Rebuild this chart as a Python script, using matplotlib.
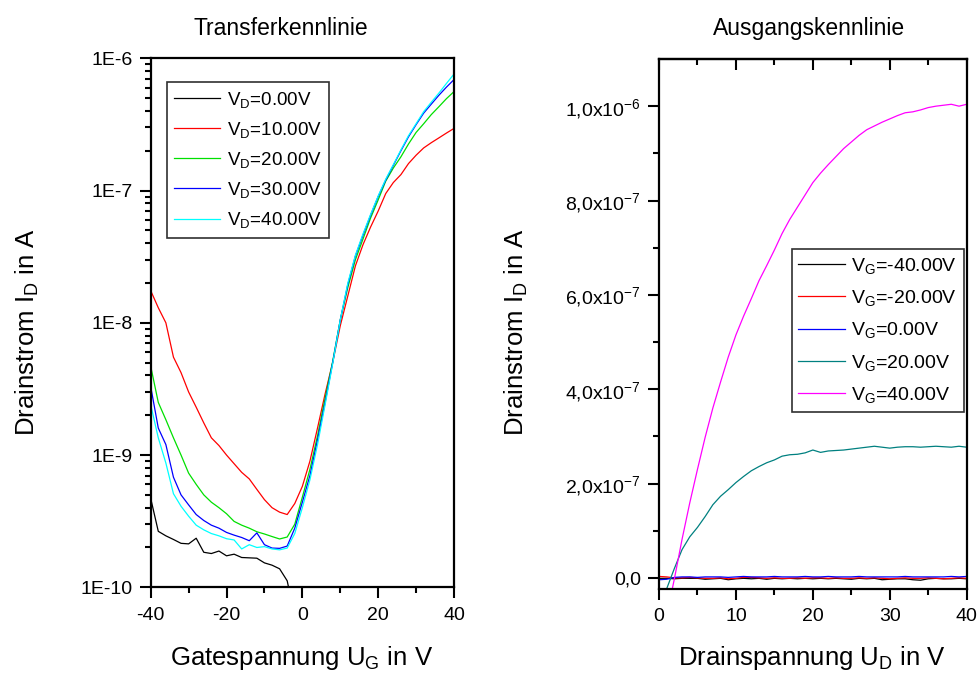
import matplotlib
matplotlib.use('Agg')
import matplotlib.pyplot as plt
from matplotlib.ticker import FixedLocator, FixedFormatter, LogLocator, NullFormatter

plt.rcParams['font.family'] = ['Liberation Sans', 'DejaVu Sans']
plt.rcParams['mathtext.fontset'] = 'custom'
plt.rcParams['mathtext.rm'] = 'Liberation Sans'
plt.rcParams['mathtext.it'] = 'Liberation Sans:italic'
plt.rcParams['mathtext.bf'] = 'Liberation Sans:bold'
plt.rcParams['mathtext.default'] = 'regular'

# ---------------- data: Transferkennlinie ----------------
gate_voltage = [-40, -38, -36, -34, -32, -30, -28, -26, -24, -22, -20, -18, -16, -14, -12,
                -10, -8, -6, -4, -2, 0, 2, 4, 6, 8, 10, 12, 14, 16, 18, 20, 22, 24, 26,
                28, 30, 32, 34, 36, 38, 40]
gate_voltage_vd0 = [-40, -38, -36, -34, -32, -30, -28, -26, -24, -22, -20, -18, -16, -14,
                    -12, -10, -8, -6, -4, -2]
id_vd0 = [4.7e-10, 2.65e-10, 2.45e-10, 2.3e-10, 2.15e-10, 2.13e-10, 2.35e-10, 1.84e-10,
          1.8e-10, 1.88e-10, 1.73e-10, 1.78e-10, 1.68e-10, 1.67e-10, 1.66e-10, 1.53e-10,
          1.47e-10, 1.38e-10, 1.12e-10, 0.6e-10]
id_vd10 = [1.75e-8, 1.3e-8, 1.0e-8, 5.5e-9, 4.2e-9, 3.0e-9, 2.3e-9, 1.75e-9, 1.35e-9,
           1.18e-9, 1.0e-9, 8.6e-10, 7.4e-10, 6.6e-10, 5.5e-10, 4.6e-10, 4.0e-10, 3.7e-10,
           3.55e-10, 4.3e-10, 5.8e-10, 9.0e-10, 1.6e-9, 2.9e-9, 5.0e-9, 9.5e-9, 1.6e-8,
           2.7e-8, 3.9e-8, 5.3e-8, 7.0e-8, 9.5e-8, 1.15e-7, 1.32e-7, 1.6e-7, 1.85e-7,
           2.1e-7, 2.3e-7, 2.5e-7, 2.72e-7, 2.95e-7]
id_vd20 = [4.7e-9, 2.5e-9, 1.85e-9, 1.35e-9, 1.0e-9, 7.3e-10, 6.0e-10, 5.0e-10, 4.4e-10,
           4.0e-10, 3.6e-10, 3.15e-10, 2.95e-10, 2.8e-10, 2.63e-10, 2.53e-10, 2.42e-10,
           2.32e-10, 2.4e-10, 3.0e-10, 4.8e-10, 7.8e-10, 1.4e-9, 2.7e-9, 5.1e-9, 1.05e-8,
           1.85e-8, 3.0e-8, 4.3e-8, 6.2e-8, 8.5e-8, 1.18e-7, 1.48e-7, 1.8e-7, 2.25e-7,
           2.75e-7, 3.2e-7, 3.75e-7, 4.3e-7, 4.95e-7, 5.6e-7]
id_vd30 = [3.3e-9, 1.6e-9, 1.2e-9, 6.8e-10, 5.0e-10, 4.2e-10, 3.55e-10, 3.2e-10, 2.95e-10,
           2.8e-10, 2.6e-10, 2.48e-10, 2.38e-10, 2.25e-10, 2.58e-10, 2.1e-10, 1.98e-10,
           1.97e-10, 2.05e-10, 2.8e-10, 4.4e-10, 7.0e-10, 1.3e-9, 2.5e-9, 5.0e-9, 1.05e-8,
           1.95e-8, 3.2e-8, 4.6e-8, 6.5e-8, 9.0e-8, 1.2e-7, 1.55e-7, 2.0e-7, 2.55e-7,
           3.15e-7, 3.85e-7, 4.5e-7, 5.25e-7, 6.05e-7, 6.9e-7]
id_vd40 = [2.4e-9, 1.35e-9, 8.7e-10, 5.1e-10, 4.1e-10, 3.45e-10, 2.95e-10, 2.72e-10,
           2.55e-10, 2.45e-10, 2.33e-10, 2.28e-10, 1.95e-10, 2.1e-10, 2.0e-10, 2.03e-10,
           1.95e-10, 1.92e-10, 1.98e-10, 2.55e-10, 4.0e-10, 6.5e-10, 1.2e-9, 2.4e-9, 4.9e-9,
           1.05e-8, 2.0e-8, 3.25e-8, 4.7e-8, 6.6e-8, 9.1e-8, 1.22e-7, 1.57e-7, 2.03e-7,
           2.6e-7, 3.2e-7, 3.95e-7, 4.65e-7, 5.45e-7, 6.45e-7, 7.6e-7]
transfer_series = [id_vd0, id_vd10, id_vd20, id_vd30, id_vd40]
transfer_labels = [r'V$_{D}$=0.00V', r'V$_{D}$=10.00V', r'V$_{D}$=20.00V',
                   r'V$_{D}$=30.00V', r'V$_{D}$=40.00V']
transfer_colors = ['#000000', '#ff0000', '#00e000', '#0000ff', '#00ffff']
transfer_yticks = [1e-10, 1e-9, 1e-8, 1e-7, 1e-6]
transfer_yticklabels = ['1E-10', '1E-9', '1E-8', '1E-7', '1E-6']
transfer_xticks = [-40, -20, 0, 20, 40]
transfer_xticklabels = ['-40', '-20', '0', '20', '40']

# ---------------- data: Ausgangskennlinie ----------------
drain_voltage = list(range(0, 41))
id_vg_m40 = [v * 1e-9 for v in
             [-1, -1, -2, -1, -1, -1, -3, -2, -1, -4, -2, -1, -2, -1, -3, -1, -2, -1, -2, -1,
              -2, -1, -2, -1, -2, -3, -1, -2, -1, -4, -3, -2, -2, -4, -5, -2, -1, -2, -2, -1, -2]]
id_vg_m20 = [v * 1e-9 for v in
             [3, 2, 0, 0, 1, 0, -1, -1, 0, -2, -1, 1, 1, 0, -1, 0, -1, -1, 0, -1, 0, 0, -1, 0,
              -1, -1, 0, -1, 0, -1, -2, -1, 0, -1, -1, 0, -1, -2, -1, 0, -1]]
id_vg_0 = [v * 1e-9 for v in
           [-4, -3, 1, 2, 2, 1, 2, 2, 2, 1, 2, 3, 2, 2, 2, 3, 2, 2, 2, 3, 2, 2, 3, 2, 2, 2, 3,
            2, 2, 2, 2, 2, 3, 2, 2, 2, 2, 2, 3, 2, 3]]
id_vg_20 = [-0.6e-7, -0.23e-7, 0.2e-7, 0.6e-7, 0.87e-7, 1.07e-7, 1.3e-7, 1.55e-7, 1.73e-7,
            1.87e-7, 2.02e-7, 2.15e-7, 2.27e-7, 2.36e-7, 2.44e-7, 2.5e-7, 2.58e-7, 2.61e-7,
            2.62e-7, 2.65e-7, 2.71e-7, 2.66e-7, 2.69e-7, 2.7e-7, 2.71e-7, 2.73e-7, 2.75e-7,
            2.77e-7, 2.79e-7, 2.77e-7, 2.75e-7, 2.77e-7, 2.78e-7, 2.78e-7, 2.77e-7, 2.78e-7,
            2.79e-7, 2.78e-7, 2.77e-7, 2.79e-7, 2.77e-7]
id_vg_40 = [-1.6e-7, -0.8e-7, -0.02e-7, 0.82e-7, 1.59e-7, 2.3e-7, 2.98e-7, 3.6e-7, 4.15e-7,
            4.68e-7, 5.15e-7, 5.55e-7, 5.92e-7, 6.3e-7, 6.62e-7, 6.95e-7, 7.3e-7, 7.6e-7,
            7.86e-7, 8.12e-7, 8.38e-7, 8.58e-7, 8.76e-7, 8.93e-7, 9.1e-7, 9.24e-7, 9.38e-7,
            9.5e-7, 9.58e-7, 9.66e-7, 9.73e-7, 9.8e-7, 9.86e-7, 9.88e-7, 9.92e-7, 9.97e-7,
            1.0e-6, 1.002e-6, 1.004e-6, 1.0e-6, 1.004e-6]
output_series = [id_vg_m40, id_vg_m20, id_vg_0, id_vg_20, id_vg_40]
output_labels = [r'V$_{G}$=-40.00V', r'V$_{G}$=-20.00V', r'V$_{G}$=0.00V',
                 r'V$_{G}$=20.00V', r'V$_{G}$=40.00V']
output_colors = ['#000000', '#ff0000', '#0000ff', '#008080', '#ff00ff']
output_yticks = [0, 2e-7, 4e-7, 6e-7, 8e-7, 1e-6]
output_yticklabels = ['0,0', r'2,0x10$^{-7}$', r'4,0x10$^{-7}$', r'6,0x10$^{-7}$',
                      r'8,0x10$^{-7}$', r'1,0x10$^{-6}$']
output_xticks = [0, 10, 20, 30, 40]
output_xticklabels = ['0', '10', '20', '30', '40']

# ---------------- layout helpers ----------------
W, H = 979, 675


def fx(px):
    return px / W


def fy(py):
    return 1 - py / H


fig = plt.figure(figsize=(W / 100, H / 100), dpi=100)

axL = fig.add_axes([fx(150.7), fy(587.3), fx(454) - fx(150.7), fy(58.3) - fy(587.3)])
axR = fig.add_axes([fx(659), fy(588.7), fx(966.7) - fx(659), fy(59) - fy(588.7)])

tick_fs = 14
label_fs = 18.5
title_fs = 16.5

for ax in (axL, axR):
    for sp in ax.spines.values():
        sp.set_linewidth(1.6)

# ---- left: transfer characteristic ----
axL.plot(gate_voltage_vd0, id_vd0, color=transfer_colors[0], lw=0.9, label=transfer_labels[0])
for ys, c, lab in zip(transfer_series[1:], transfer_colors[1:], transfer_labels[1:]):
    axL.plot(gate_voltage, ys, color=c, lw=0.9, label=lab)
axL.set_yscale('log')
axL.set_xlim(-40, 40)
axL.set_ylim(1e-10, 1e-6)
axL.yaxis.set_major_locator(FixedLocator(transfer_yticks))
axL.yaxis.set_major_formatter(FixedFormatter(transfer_yticklabels))
axL.yaxis.set_minor_locator(LogLocator(base=10, subs=[2, 3, 4, 5, 6, 7, 8, 9], numticks=20))
axL.yaxis.set_minor_formatter(NullFormatter())
axL.xaxis.set_major_locator(FixedLocator(transfer_xticks))
axL.xaxis.set_major_formatter(FixedFormatter(transfer_xticklabels))
axL.xaxis.set_minor_locator(FixedLocator([-30, -10, 10, 30]))
axL.tick_params(which='major', direction='out', length=8, width=1.5, labelsize=tick_fs,
                top=False, right=False)
axL.tick_params(which='minor', direction='out', length=4, width=1.5, top=False, right=False)
axL.tick_params(axis='x', which='major', pad=6)
axL.tick_params(axis='y', which='major', pad=5)

legL = axL.legend(loc='upper left', bbox_to_anchor=(0.053, 0.955), borderaxespad=0,
                  frameon=True, fancybox=False, framealpha=1, edgecolor='#303030',
                  fontsize=13.5, handlelength=2.45, handletextpad=0.36,
                  labelspacing=0.54, borderpad=0.4)
legL.get_frame().set_linewidth(1.2)

# ---- right: output characteristic ----
for ys, c, lab in zip(output_series, output_colors, output_labels):
    axR.plot(drain_voltage, ys, color=c, lw=0.9, label=lab)
axR.set_xlim(0, 40)
axR.set_ylim(-2.3e-8, 1.1e-6)
axR.yaxis.set_major_locator(FixedLocator(output_yticks))
axR.yaxis.set_major_formatter(FixedFormatter(output_yticklabels))
axR.yaxis.set_minor_locator(FixedLocator([1e-7, 3e-7, 5e-7, 7e-7, 9e-7]))
axR.xaxis.set_major_locator(FixedLocator(output_xticks))
axR.xaxis.set_major_formatter(FixedFormatter(output_xticklabels))
axR.xaxis.set_minor_locator(FixedLocator([5, 15, 25, 35]))
axR.tick_params(which='major', direction='out', length=8, width=1.5, labelsize=tick_fs,
                top=False, right=False)
axR.tick_params(which='minor', direction='out', length=4, width=1.5, top=False, right=False)
axR.tick_params(axis='x', which='major', pad=6)
axR.tick_params(axis='y', which='major', pad=5)

secR = axR.secondary_xaxis('top')
secR.xaxis.set_major_locator(FixedLocator(output_xticks))
secR.xaxis.set_minor_locator(FixedLocator([5, 15, 25, 35]))
secR.tick_params(which='major', direction='in', length=8, width=1.5, labeltop=False)
secR.tick_params(which='minor', direction='in', length=4, width=1.5)
secR.spines['top'].set_linewidth(1.6)

legR = axR.legend(loc='upper left', bbox_to_anchor=(0.431, 0.641), borderaxespad=0,
                  frameon=True, fancybox=False, framealpha=1, edgecolor='#303030',
                  fontsize=14, handlelength=2.4, handletextpad=0.31,
                  labelspacing=0.63, borderpad=0.35)
legR.get_frame().set_linewidth(1.2)

# ---- titles and axis labels ----
fig.text(fx(281), fy(35), 'Transferkennlinie', fontsize=title_fs, ha='center', va='baseline')
fig.text(fx(809), fy(35), 'Ausgangskennlinie', fontsize=title_fs, ha='center', va='baseline')
fig.text(fx(302), fy(665), r'Gatespannung U$_{G}$ in V', fontsize=label_fs,
         ha='center', va='baseline')
fig.text(fx(812), fy(665), r'Drainspannung U$_{D}$ in V', fontsize=label_fs,
         ha='center', va='baseline')
fig.text(fx(27), fy(332), r'Drainstrom I$_{D}$ in A', fontsize=label_fs, rotation=90,
         ha='center', va='center')
fig.text(fx(516), fy(332), r'Drainstrom I$_{D}$ in A', fontsize=label_fs, rotation=90,
         ha='center', va='center')

fig.savefig('out.png', dpi=100)
